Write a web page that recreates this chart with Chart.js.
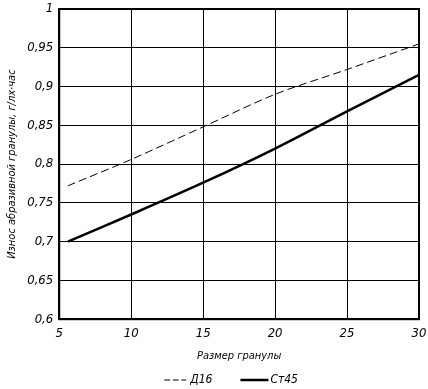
<!DOCTYPE html>
<html lang="ru">
  <head>
    <meta charset="UTF-8" />
    <title>Износ абразивной гранулы</title>
    <script src="https://cdn.jsdelivr.net/npm/chart.js@4/dist/chart.umd.min.js"></script>
    <style>
      html, body { margin: 0; padding: 0; background: #fff; }
      #wrap { width: 428px; height: 389px; }
    </style>
  </head>
  <body>
    <div id="wrap"><canvas id="myChart"></canvas></div>
    <script>
      // размер гранулы
      let granSize = [5.6, 10, 15, 20, 25, 30];
      let d16 = [0.772, 0.806, 0.848, 0.89, 0.922, 0.955];
      let st45 = [0.7, 0.735, 0.776, 0.82, 0.868, 0.915];
      let seriesNames = ["Д16", "Ст45"];

      let fontFamily = "'Liberation Sans Narrow', 'DejaVu Sans Condensed', sans-serif";
      let tickFont = { family: fontFamily, style: "italic", size: 13 };
      let titleFont = { family: fontFamily, style: "italic", size: 11 };

      function toPoints(ys) {
        return granSize.map((x, i) => ({ x: x, y: ys[i] }));
      }

      // legend drawn by hand so the dashed line shows up
      let legendLines = {
        id: "legendLines",
        afterDraw(chart) {
          let ctx = chart.ctx;
          let a = chart.chartArea;
          ctx.save();
          ctx.font = "italic 12px " + fontFamily;
          let lineLen = [22, 28], gap = [4, 2], dash = [[6, 2.5], []], spacing = 28;
          let items = chart.data.datasets.map((ds, i) => ({
            ds: ds,
            len: lineLen[i],
            gap: gap[i],
            dash: dash[i],
            w: lineLen[i] + gap[i] + ctx.measureText(ds.label).width,
          }));
          let total = items.reduce((s, it) => s + it.w, 0) + spacing * (items.length - 1);
          let x = (a.left + a.right) / 2 - 8 - total / 2;
          let y = chart.height - 9;
          items.forEach((it) => {
            ctx.strokeStyle = "#000";
            ctx.lineWidth = it.ds.borderWidth;
            ctx.setLineDash(it.dash);
            ctx.beginPath();
            ctx.moveTo(x, y);
            ctx.lineTo(x + it.len, y);
            ctx.stroke();
            ctx.setLineDash([]);
            ctx.fillStyle = "#000";
            ctx.textBaseline = "middle";
            ctx.fillText(it.ds.label, x + it.len + it.gap, y);
            x += it.w + spacing;
          });
          ctx.restore();
        },
      };

      let frame = {
        id: "frame",
        afterDraw(chart) {
          let a = chart.chartArea;
          let ctx = chart.ctx;
          ctx.save();
          ctx.strokeStyle = "#000";
          ctx.lineWidth = 2;
          ctx.strokeRect(a.left, a.top, a.right - a.left, a.bottom - a.top);
          ctx.restore();
        },
      };

      new Chart("myChart", {
        type: "line",
        data: {
          datasets: [
            {
              label: seriesNames[0],
              data: toPoints(d16),
              borderColor: "#000",
              borderWidth: 1,
              borderDash: [8, 4],
              pointRadius: 0,
              tension: 0.3,
            },
            {
              label: seriesNames[1],
              data: toPoints(st45),
              borderColor: "#000",
              borderWidth: 2.5,
              pointRadius: 0,
              tension: 0.3,
            },
          ],
        },
        options: {
          animation: false,
          responsive: true,
          maintainAspectRatio: false,
          layout: { padding: { left: 4, right: 9, top: 9, bottom: 26 } },
          scales: {
            x: {
              type: "linear",
              min: 5,
              max: 30,
              afterFit: (scale) => { scale.paddingRight = 0; },
              ticks: { stepSize: 5, color: "#000", font: tickFont, maxRotation: 0, padding: 7 },
              grid: { color: "#000", lineWidth: 1, drawTicks: false },
              border: { color: "#000", width: 2 },
              title: { display: true, text: "Размер гранулы", color: "#000", font: titleFont, padding: { top: 1, bottom: 0 } },
            },
            y: {
              min: 0.6,
              max: 1,
              afterFit: (scale) => { scale.paddingTop = 0; },
              ticks: {
                stepSize: 0.05,
                color: "#000",
                font: tickFont,
                padding: 6,
                callback: (v) => String(Math.round(v * 100) / 100).replace(".", ","),
              },
              grid: { color: "#000", lineWidth: 1, drawTicks: false },
              border: { color: "#000", width: 2 },
              title: { display: true, text: "Износ абразивной гранулы, г/лх·час", color: "#000", font: titleFont, padding: 2 },
            },
          },
          plugins: {
            legend: { display: false },
            tooltip: { enabled: false },
          },
        },
        plugins: [frame, legendLines],
      });
    </script>
  </body>
</html>
